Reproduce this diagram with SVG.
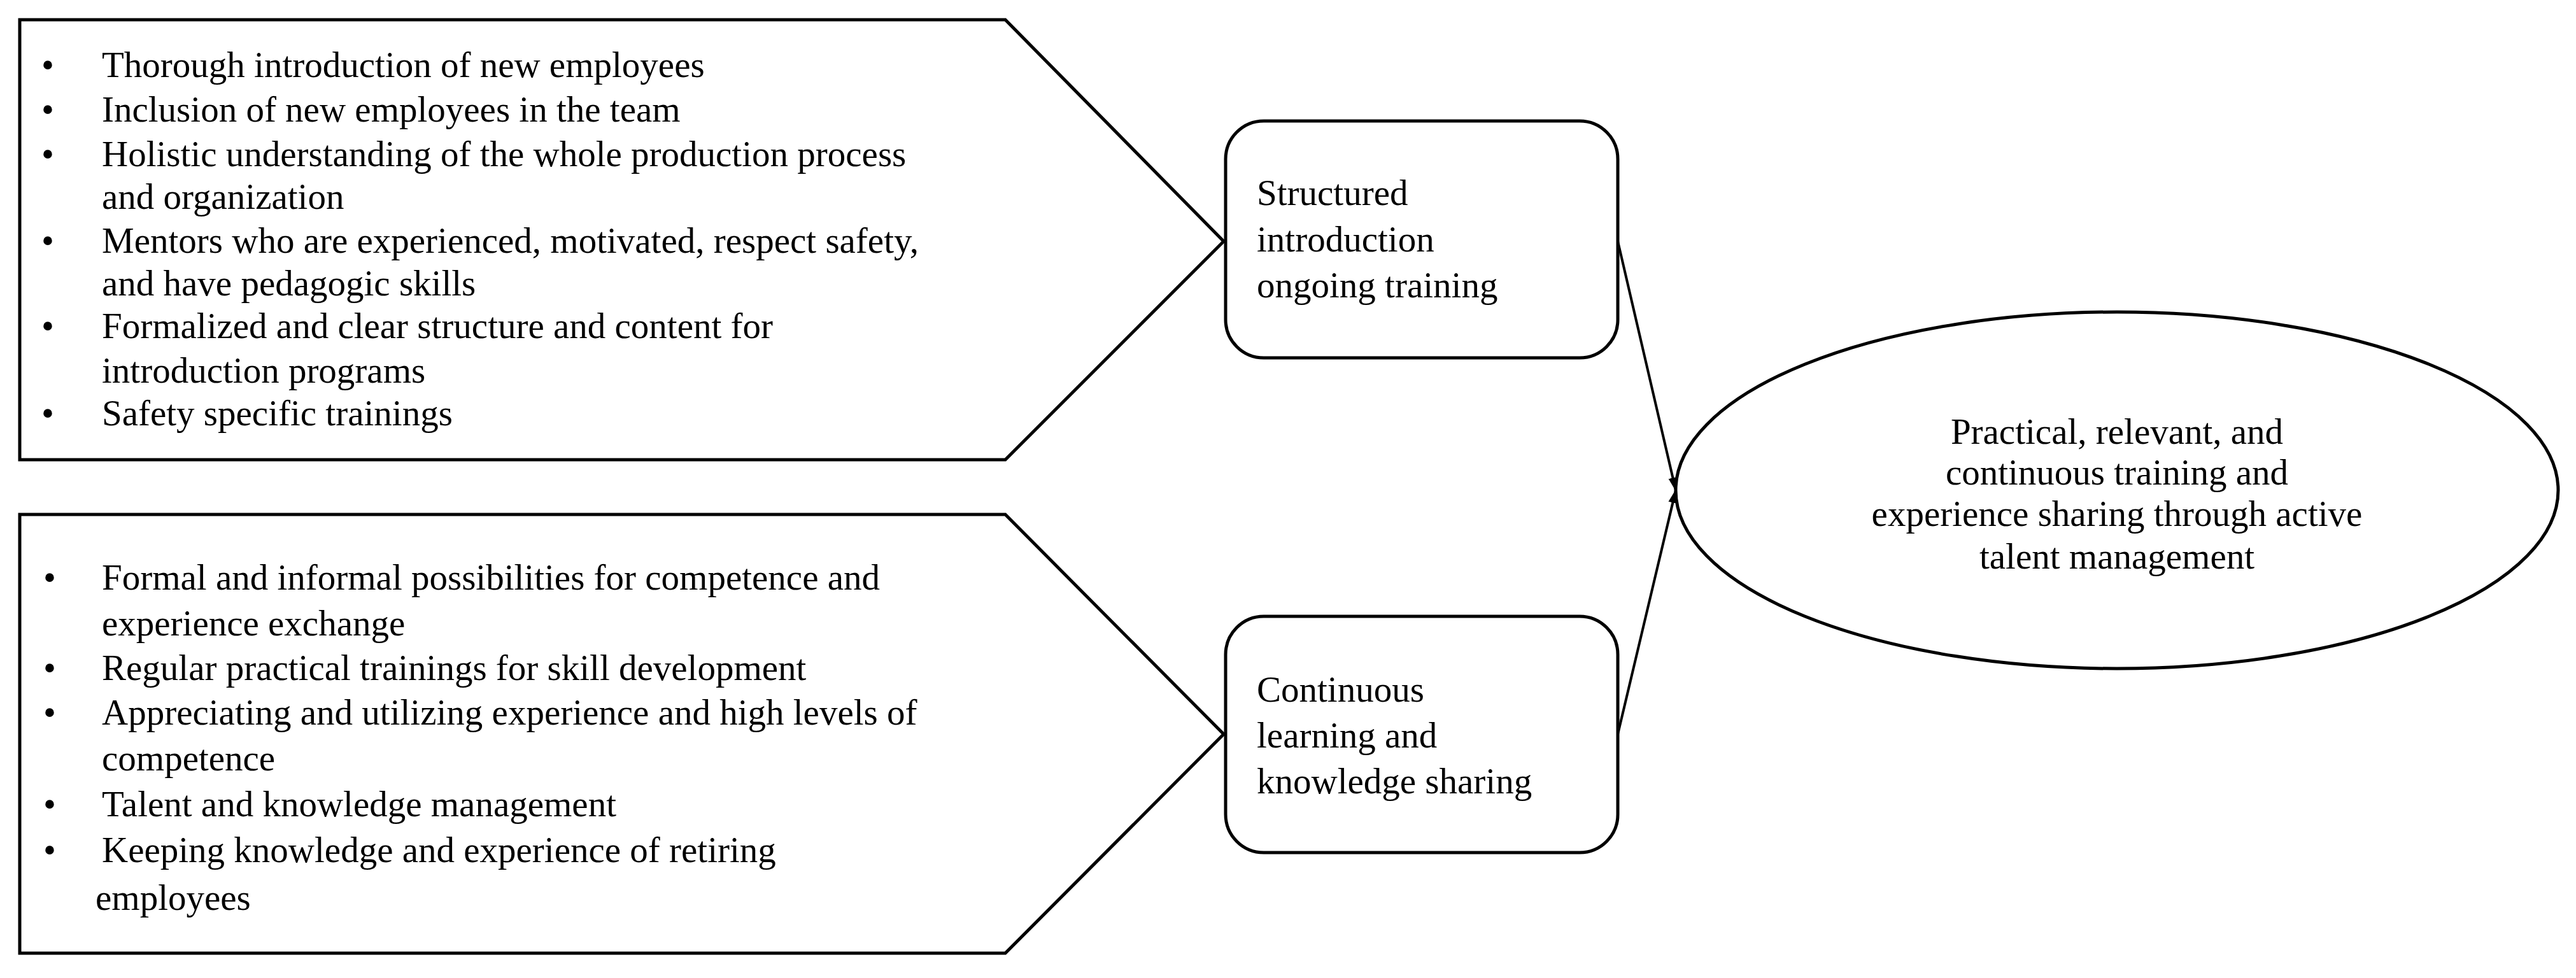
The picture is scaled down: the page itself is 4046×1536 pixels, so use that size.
<svg xmlns="http://www.w3.org/2000/svg" width="4046" height="1536" viewBox="0 0 4046 1536">
<style>
.s{fill:#fff;stroke:#000;stroke-width:5}
text{font-family:"Liberation Serif","DejaVu Serif",serif;font-size:57px;fill:#000}
.c{text-anchor:middle}
.l{stroke:#000;stroke-width:4;fill:none}
</style>
<defs><marker id="a" markerWidth="10" markerHeight="10" refX="9" refY="5" orient="auto" markerUnits="userSpaceOnUse" viewBox="0 0 10 10"><path d="M0,0L10,5L0,10z" fill="#000"/></marker>
<marker id="ah" markerWidth="22" markerHeight="22" refX="20" refY="11" orient="auto" markerUnits="userSpaceOnUse"><path d="M0,4L22,11L0,18z" fill="#000"/></marker></defs>
<rect width="4046" height="1536" fill="#fff"/>
<g id="list1">
<path class="s" d="M31,31H1579L1922,379L1579,722H31Z"/>
<g>
<text x="65" y="121">•</text><text x="160" y="121">Thorough introduction of new employees</text>
<text x="65" y="191">•</text><text x="160" y="191">Inclusion of new employees in the team</text>
<text x="65" y="261">•</text><text x="160" y="261">Holistic understanding of the whole production process</text>
<text x="160" y="328">and organization</text>
<text x="65" y="397">•</text><text x="160" y="397">Mentors who are experienced, motivated, respect safety,</text>
<text x="160" y="464">and have pedagogic skills</text>
<text x="65" y="531">•</text><text x="160" y="531">Formalized and clear structure and content for</text>
<text x="160" y="601">introduction programs</text>
<text x="65" y="668">•</text><text x="160" y="668">Safety specific trainings</text>
</g></g>
<g id="list2">
<path class="s" d="M31,808H1579L1922,1153L1579,1497H31Z"/>
<text x="68" y="926">•</text><text x="160" y="926">Formal and informal possibilities for competence and</text>
<text x="160" y="998">experience exchange</text>
<text x="68" y="1068">•</text><text x="160" y="1068">Regular practical trainings for skill development</text>
<text x="68" y="1138">•</text><text x="160" y="1138">Appreciating and utilizing experience and high levels of</text>
<text x="160" y="1210">competence</text>
<text x="68" y="1282">•</text><text x="160" y="1282">Talent and knowledge management</text>
<text x="68" y="1354">•</text><text x="160" y="1354">Keeping knowledge and  experience of retiring</text>
<text x="150" y="1429">employees</text>
</g>
<g id="box1">
<rect class="s" x="1925" y="190" width="616" height="372" rx="60"/>
<text x="1974" y="322">Structured</text><text x="1974" y="395">introduction</text><text x="1974" y="467">ongoing training</text>
</g>
<g id="box2">
<rect class="s" x="1925" y="968" width="616" height="371" rx="60"/>
<text x="1974" y="1102">Continuous</text><text x="1974" y="1174">learning and</text><text x="1974" y="1246">knowledge sharing</text>
</g>
<g id="goal">
<ellipse class="s" cx="3325" cy="770" rx="693" ry="280"/>
<text class="c" x="3325" y="697">Practical, relevant, and</text>
<text class="c" x="3325" y="761">continuous training and</text>
<text class="c" x="3325" y="826">experience sharing through active</text>
<text class="c" x="3325" y="893">talent management</text>
</g>
<g id="connectors">
<line class="l" x1="2541" y1="379" x2="2632" y2="770" marker-end="url(#ah)"/>
<line class="l" x1="2541" y1="1153" x2="2632" y2="770" marker-end="url(#ah)"/>
</g>
</svg>
